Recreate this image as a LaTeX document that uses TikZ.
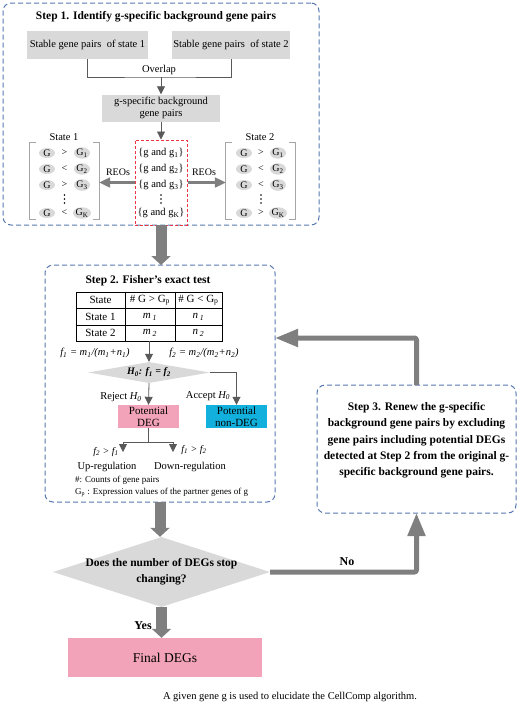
\documentclass[tikz,border=0pt]{standalone}
\usepackage{fontspec}
\setmainfont{Liberation Serif}
\usetikzlibrary{arrows.meta,shapes.geometric}
\definecolor{dashblue}{HTML}{5878B0}
\definecolor{boxgray}{HTML}{D9D9D9}
\definecolor{arrowgray}{HTML}{7F7F7F}
\definecolor{linegray}{HTML}{595959}
\definecolor{brkgray}{HTML}{A6A6A6}
\definecolor{degpink}{HTML}{F2A3B9}
\definecolor{nondegcyan}{HTML}{12B0DC}
\definecolor{reddash}{HTML}{EE3344}
\begin{document}
\begin{tikzpicture}[x=1pt,y=-1pt,
 stepframe/.style={draw=dashblue, line width=1pt, dash pattern=on 5pt off 3pt, rounded corners=8pt, inner sep=0pt, outer sep=0pt, anchor=north west},
 graybox/.style={fill=boxgray, inner sep=0pt, align=center, font=\fontsize{10.5}{12.5}\selectfont},
 lbl/.style={inner sep=0pt, font=\fontsize{10.5}{12}\selectfont},
 small/.style={inner sep=0pt, font=\fontsize{9}{10}\selectfont},
 cell/.style={inner sep=0pt, font=\fontsize{11}{12}\selectfont},
 ttl/.style={inner sep=0pt, font=\bfseries\fontsize{11.5}{13}\selectfont},
 thinline/.style={draw=linegray, line width=0.8pt},
 thinarr/.style={thinline, -{Triangle[width=8pt,length=8pt]}},
 reoarr/.style={draw=arrowgray, line width=2.2pt, -{Triangle[width=10pt,length=11pt]}},
 bigarr/.style={draw=arrowgray, line width=11pt, -{Triangle[width=19pt,length=9pt]}},
 medarr/.style={draw=arrowgray, line width=5pt, line join=round, rounded corners=2pt, -{Triangle[width=17pt,length=23pt]}},
 gell/.style={ellipse, fill=boxgray, minimum width=16pt, minimum height=10pt, inner sep=0pt, font=\fontsize{10}{10}\selectfont},
 brk/.style={draw=brkgray, line width=0.8pt},
 rel/.style={inner sep=0pt, font=\fontsize{10}{10}\selectfont},
 dts/.style={inner sep=0pt, minimum size=10pt},
]
\useasboundingbox (0,0) rectangle (520,705);

% ---------- Step 1 ----------
\node[stepframe, minimum width=316pt, minimum height=222pt] (s1) at (3,3) {};
\node[ttl] (t1) at (156,17) {Step 1. Identify g-specific background gene pairs};
\node[graybox, minimum width=121pt, minimum height=28pt] (sp1) at (87.5,45) {Stable gene pairs\ \ of state 1};
\node[graybox, minimum width=118pt, minimum height=28pt] (sp2) at (231,45) {Stable gene pairs\ \ of state 2};
\coordinate (ov) at (161,77);
\draw[thinline] (sp1.south) |- (ov) -| (sp2.south);
\node[lbl] (ovl) at (159,70) {Overlap};
\node[graybox, minimum width=118pt, minimum height=27pt] (bg) at (161,108) {g-specific background\\gene pairs};
\draw[thinarr] (ov) -- (bg.north);

\node[draw=reddash, line width=1pt, dash pattern=on 3pt off 2pt, minimum width=52pt, minimum height=85pt, inner sep=0pt] (pairs) at (161,182.5) {};
\draw[thinarr] (bg.south) -- (pairs.north);
\foreach \y/\k [count=\i] in {153/1,169/2,185/3,213/K}
  \node[lbl] (pr\i) at (161,\y) {\{g and g\textsubscript{\k}\}};
\node[dts] (prd) at (161,199) {};

% state 1
\node[lbl] (st1) at (64,137) {State 1};
\node[minimum width=69pt, minimum height=76pt, inner sep=0pt] (lb) at (64.5,181) {};
\draw[brk] ([xshift=6pt]lb.north west) -- (lb.north west) -- (lb.south west) -- ([xshift=6pt]lb.south west);
\draw[brk] ([xshift=-6pt]lb.north east) -- (lb.north east) -- (lb.south east) -- ([xshift=-6pt]lb.south east);
\foreach \y/\s/\k [count=\i] in {153/>/1,169/</2,185/>/3,213/</K}{
  \node[gell] (lg\i) at (47,\y) {G};
  \node[rel] (lr\i) at (64.5,\y) {\s};
  \node[gell] (lh\i) at (82,\y) {G\textsubscript{\k}};
}
\node[dts] (ld) at (64.5,199) {};

% state 2
\node[lbl] (st2) at (260,137) {State 2};
\node[minimum width=69pt, minimum height=76pt, inner sep=0pt] (rb) at (260.5,181) {};
\draw[brk] ([xshift=6pt]rb.north west) -- (rb.north west) -- (rb.south west) -- ([xshift=6pt]rb.south west);
\draw[brk] ([xshift=-6pt]rb.north east) -- (rb.north east) -- (rb.south east) -- ([xshift=-6pt]rb.south east);
\foreach \y/\s/\k [count=\i] in {153/>/1,169/</2,185/</3,213/>/K}{
  \node[gell] (rg\i) at (244,\y) {G};
  \node[rel] (rr\i) at (261,\y) {\s};
  \node[gell] (rh\i) at (278,\y) {G\textsubscript{\k}};
}
\node[dts] (rd) at (261,199) {};
\foreach \n in {prd,ld,rd}
  \foreach \d in {-4,0,4}
    \fill ([yshift=\d pt]\n.center) circle (0.85pt);

\draw[reoarr] (pairs.west) -- (pairs.west -| lb.east);
\draw[reoarr] (pairs.east) -- (pairs.east -| rb.west);
\node[lbl, font=\fontsize{10}{11}\selectfont] (reo1) at (118,172) {REOs};
\node[lbl, font=\fontsize{10}{11}\selectfont] (reo2) at (204,172) {REOs};

% ---------- Step 2 ----------
\node[stepframe, minimum width=230pt, minimum height=237pt] (s2) at (45,265) {};
\draw[bigarr] (s1.south) -- (s1.south |- s2.north);
\node[ttl] (t2) at (148,281) {Step 2. Fisher's exact test};

\node[draw, line width=0.9pt, minimum width=146pt, minimum height=49pt, inner sep=0pt] (tbl) at (149,316.5) {};
\draw[line width=0.9pt] (tbl.north -| 125,0) -- (tbl.south -| 125,0);
\draw[line width=0.9pt] (tbl.north -| 175,0) -- (tbl.south -| 175,0);
\draw[line width=0.9pt] (tbl.west |- 0,308.5) -- (tbl.east |- 0,308.5);
\draw[line width=0.9pt] (tbl.west |- 0,325) -- (tbl.east |- 0,325);
\node[cell] (c11) at (100.5,300) {State};
\node[cell] (c12) at (150,300) {\# G > G\textsubscript{p}};
\node[cell] (c13) at (198.5,300) {\# G < G\textsubscript{p}};
\node[cell] (c21) at (100.5,317) {State 1};
\node[cell] (c22) at (150,317) {\itshape m\,\textsubscript{1}};
\node[cell] (c23) at (198.5,317) {\itshape n\,\textsubscript{1}};
\node[cell] (c31) at (100.5,333) {State 2};
\node[cell] (c32) at (150,333) {\itshape m\,\textsubscript{2}};
\node[cell] (c33) at (198.5,333) {\itshape n\,\textsubscript{2}};

\node[cell, font=\itshape\fontsize{10.5}{12}\selectfont] (f1) at (95,353) {f\textsubscript{1} = m\textsubscript{1}/(m\textsubscript{1}+n\textsubscript{1})};
\node[cell, font=\itshape\fontsize{10.5}{12}\selectfont] (f2) at (204,353) {f\textsubscript{2} = m\textsubscript{2}/(m\textsubscript{2}+n\textsubscript{2})};

\node[diamond, fill=boxgray, minimum width=122pt, minimum height=21pt, aspect=6, inner sep=0pt, font=\bfseries\itshape\fontsize{10}{11}\selectfont] (h0) at (149,372.5) {H\textsubscript{0}: f\textsubscript{1} = f\textsubscript{2}};
\draw[thinarr] (tbl.south) -- (h0.north);

\node[fill=degpink, minimum width=61pt, minimum height=23pt, inner sep=0pt, align=center, font=\fontsize{11}{12}\selectfont] (deg) at (148.5,416.5) {Potential\\DEG};
\node[fill=nondegcyan, minimum width=61pt, minimum height=23pt, inner sep=0pt, align=center, font=\fontsize{11}{12}\selectfont] (nondeg) at (236.5,416.5) {Potential\\non-DEG};
\coordinate (acc) at (nondeg.north |- h0.east);
\draw[thinline] (h0.east) -- (acc);
\draw[thinarr] (acc) -- (nondeg.north);
\draw[thinarr] (h0.south) -- (deg.north);
\node[lbl] (rej) at (121,397) {Reject \textit{H\textsubscript{0}}};
\node[lbl] (accl) at (208,396) {Accept \textit{H\textsubscript{0}}};

\coordinate (split) at (148.5,442);
\coordinate (upend) at (123,452);
\coordinate (downend) at (173,452);
\draw[thinline] (deg.south) -- (split);
\draw[thinarr] (split) -| (upend);
\draw[thinarr] (split) -| (downend);
\node[lbl, font=\itshape\fontsize{10}{11}\selectfont] (c1) at (106,452) {f\textsubscript{2} > f\textsubscript{1}};
\node[lbl, font=\itshape\fontsize{10}{11}\selectfont] (c2) at (194,450) {f\textsubscript{1} > f\textsubscript{2}};
\node[lbl] (up) at (107,467) {Up-regulation};
\node[lbl] (down) at (190,467) {Down-regulation};
\node[small, anchor=west] (n1) at (75,480) {\#: Counts of gene pairs};
\node[small, anchor=west] (n2) at (75,492) {G\textsubscript{p} : Expression values of the partner genes of g};

% ---------- Step 3 ----------
\node[stepframe, minimum width=199pt, minimum height=128pt] (s3) at (317,385) {};
\node[inner sep=0pt, align=center, font=\bfseries\fontsize{11.5}{16.3}\selectfont] (s3t) at (416.5,440.5)
 {Step 3. Renew the g-specific\\background gene pairs by excluding\\gene pairs including potential DEGs\\detected at Step 2 from the original g-\\specific background gene pairs.};
\coordinate (bend) at (s3.north |- 0,338);
\draw[medarr] (s3.north) -- (bend) -- (bend -| s2.east);

% ---------- decision ----------
\node[diamond, fill=boxgray, minimum width=217pt, minimum height=70pt, inner sep=0pt,
  label={[inner sep=0pt, align=center, font=\bfseries\fontsize{11.5}{16}\selectfont]center:Does the number of DEGs stop\\changing?}] (dq) at (161.5,572) {};
\draw[bigarr] (s2.south) -- (s2.south |- dq.north);
\draw[medarr] (dq.east) -| (s3.south);
\node[inner sep=0pt, font=\bfseries\fontsize{12}{13}\selectfont] (no) at (347,562) {No};

\node[fill=degpink, minimum width=194pt, minimum height=39pt, inner sep=0pt, font=\fontsize{13.5}{15}\selectfont] (final) at (165,657.5) {Final DEGs};
\draw[bigarr] (dq.south) -- (dq.south |- final.north);
\node[inner sep=0pt, font=\bfseries\fontsize{12}{13}\selectfont] (yes) at (143,626) {Yes};

\node[lbl] (cap) at (290,697) {A given gene g is used to elucidate the CellComp algorithm.};
\end{tikzpicture}
\end{document}
